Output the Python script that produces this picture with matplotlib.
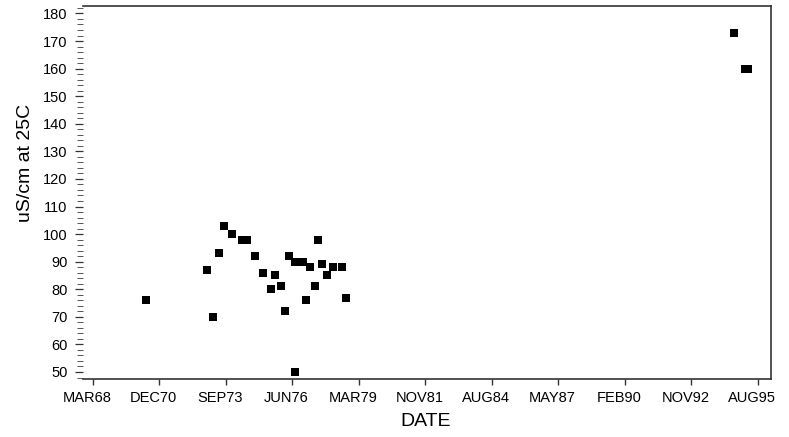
import matplotlib
matplotlib.use("Agg")
import matplotlib.pyplot as plt
import matplotlib.dates as mdates
import matplotlib.transforms as mtransforms
from matplotlib.ticker import FixedLocator, MultipleLocator
import pandas as pd
import numpy as np

# ---- data ----
dates = ["1970-05-26", "1972-11-30", "1973-03-01", "1973-05-30", "1973-08-13",
         "1973-12-03", "1974-05-02", "1974-07-21", "1974-11-19", "1975-03-15",
         "1975-07-18", "1975-09-20", "1975-12-15", "1976-02-09", "1976-04-18",
         "1976-07-13", "1976-07-13", "1976-11-06", "1976-12-26", "1977-03-01",
         "1977-05-10", "1977-06-20", "1977-08-24", "1977-11-03", "1978-02-10",
         "1978-06-16", "1978-08-20", "1994-08-15", "1995-01-25", "1995-03-18"]
values = [76, 87, 70, 93, 103,
          100, 98, 98, 92, 86,
          80, 85, 81, 72, 92,
          50, 90, 90, 76, 88,
          81, 98, 89, 85, 88,
          88, 77, 173, 160, 160]

tick_labels = ["MAR68", "DEC70", "SEP73", "JUN76", "MAR79", "NOV81",
               "AUG84", "MAY87", "FEB90", "NOV92", "AUG95"]
first_tick, last_tick = "1968-03-15", "1995-08-15"
x_limits = ("1967-10-17", "1996-02-27")
y_ticks = list(range(50, 181, 10))
y_limits = (47.46, 182.7)

xlabel = "DATE"
ylabel = "uS/cm at 25C"

# ---- plotting ----
font = ["Liberation Sans Narrow", "Liberation Sans", "DejaVu Sans"]
plt.rcParams["font.family"] = font

fig = plt.figure(figsize=(7.89, 4.37), dpi=100)
W, H = 789, 437
ax = fig.add_axes([83 / W, 1 - 379 / H, (771 - 83) / W, (379 - 6) / H])

x = mdates.date2num(pd.to_datetime(dates).to_pydatetime())
ax.plot(x, values, linestyle="none", marker="s", markersize=6.3,
        color="black", markeredgewidth=0)

ax.set_xlim(*[mdates.date2num(pd.Timestamp(d).to_pydatetime()) for d in x_limits])
ax.set_ylim(*y_limits)

t0 = mdates.date2num(pd.Timestamp(first_tick).to_pydatetime())
t1 = mdates.date2num(pd.Timestamp(last_tick).to_pydatetime())
xt = np.linspace(t0, t1, len(tick_labels))
ax.xaxis.set_major_locator(FixedLocator(xt))
ax.set_xticklabels(tick_labels)
ax.set_yticks(y_ticks)
ax.set_yticklabels([str(v) for v in y_ticks])
ax.yaxis.set_minor_locator(MultipleLocator(2))

for s in ["top", "right", "bottom"]:
    ax.spines[s].set_color("#333333")
    ax.spines[s].set_linewidth(1.2)
ax.spines["left"].set_visible(False)

ax.tick_params(axis="x", direction="out", length=4, width=1.0, color="#333333",
               pad=5, labelsize=10.5, labelcolor="black")
ax.tick_params(axis="y", which="major", direction="out", length=6, width=0.9,
               color="#333333", pad=5, labelsize=10.5, labelcolor="black")
ax.tick_params(axis="y", which="minor", direction="out", length=4, width=0.7,
               color="#555555")

# shift x tick labels slightly left as in the reference
offset = mtransforms.ScaledTranslation(-6 / 100, 0, fig.dpi_scale_trans)
for lbl in ax.get_xticklabels():
    lbl.set_transform(lbl.get_transform() + offset)

fig.text(426 / W, 1 - 421 / H, xlabel, ha="center", va="center",
         fontsize=14, family=["Liberation Sans", "DejaVu Sans"])
fig.text(25 / W, 1 - 163 / H, ylabel, ha="center", va="center",
         rotation=90, fontsize=14, family=["Liberation Sans", "DejaVu Sans"])

fig.savefig("out.png", dpi=100)
